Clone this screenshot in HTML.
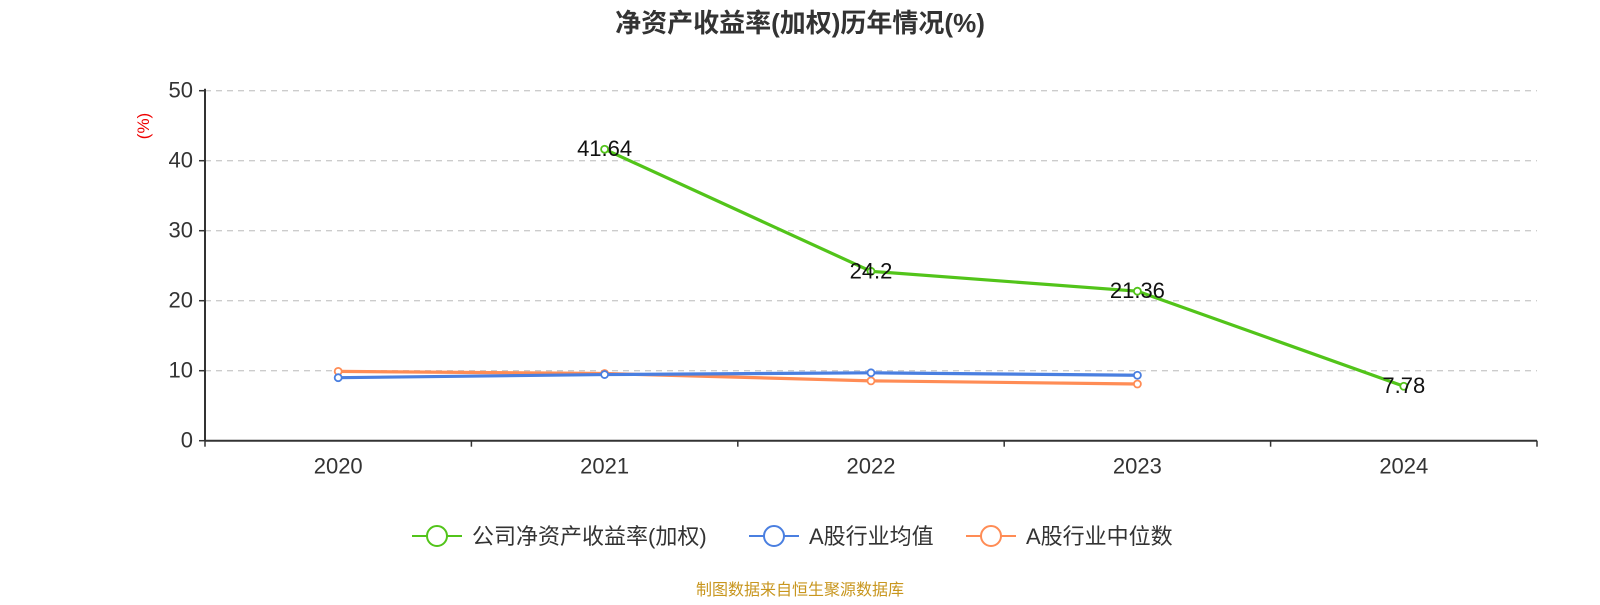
<!DOCTYPE html>
<html><head><meta charset="utf-8"><style>
body{margin:0;background:#fff;font-family:"Liberation Sans","Noto Sans CJK SC",sans-serif}
svg text{font-family:"Liberation Sans","Noto Sans CJK SC",sans-serif}
</style></head><body>
<svg id="chart" width="1600" height="600" xmlns="http://www.w3.org/2000/svg">
<text x="800" y="32" text-anchor="middle" font-size="26" font-weight="bold" fill="#333">净资产收益率(加权)历年情况(%)</text>
<text transform="translate(149,126) rotate(-90)" text-anchor="middle" font-size="17" fill="#e00">(%)</text>
<g id="grid"></g><g id="axes"></g><g id="series"></g>
<g id="legend"></g>
<text x="800" y="595" text-anchor="middle" font-size="16" fill="#c8961e">制图数据来自恒生聚源数据库</text>
</svg>
<script>
const categories=["2020","2021","2022","2023","2024"];
const yTicks=[0,10,20,30,40,50];
const companyRoe=[null,41.64,24.2,21.36,7.78];
const industryAvg=[9.0,9.45,9.7,9.35,null];
const industryMedian=[9.9,9.6,8.55,8.1,null];
const X0=205,X1=1537,Y0=440.7,Y1=90.7,YMAX=50;
const bw=(X1-X0)/categories.length;
const xs=i=>X0+bw*(i+0.5);
const ys=v=>Y0-(v/YMAX)*(Y0-Y1);
const NS="http://www.w3.org/2000/svg";
function mk(tag,attrs,parent,txt){const e=document.createElementNS(NS,tag);for(const k in attrs)e.setAttribute(k,attrs[k]);if(txt!=null)e.textContent=txt;parent.appendChild(e);return e;}
const grid=document.getElementById('grid'),axes=document.getElementById('axes'),ser=document.getElementById('series'),leg=document.getElementById('legend');
yTicks.forEach(t=>{
  if(t>0){const l=mk('line',{x1:X0,x2:X1,y1:ys(t),y2:ys(t),stroke:'#ccc','stroke-dasharray':'6,5','stroke-width':1.3},grid);
  
  }
  const tk=mk('line',{x1:X0-6,x2:X0,y1:ys(t),y2:ys(t),stroke:'#333','stroke-width':1.5},axes);
  
  
  const tx=mk('text',{x:X0-12,y:ys(t)+7,'text-anchor':'end','font-size':22,fill:'#333'},axes,String(t));
  
  
});
const ya=mk('line',{x1:X0,x2:X0,y1:Y1-2,y2:Y0,stroke:'#333','stroke-width':2},axes);


const xa=mk('line',{x1:X0,x2:X1,y1:Y0,y2:Y0,stroke:'#333','stroke-width':2},axes);


for(let i=0;i<=categories.length;i++){const t=mk('line',{x1:X0+bw*i,x2:X0+bw*i,y1:Y0,y2:Y0+6,stroke:'#333','stroke-width':1.5},axes);
  
  }
categories.forEach((c,i)=>{const t=mk('text',{x:xs(i),y:Y0+33,'text-anchor':'middle','font-size':22,fill:'#333'},axes,c);
  
  });
function drawSeries(vals,color,name,labels){
  const g=mk('g',{},ser);
  
  
  const pts=[];vals.forEach((v,i)=>{if(v!=null)pts.push([xs(i),ys(v),v]);});
  const p=mk('polyline',{points:pts.map(p=>p[0]+','+p[1]).join(' '),fill:'none',stroke:color,'stroke-width':3.2},g);
  
  
  pts.forEach(pt=>{const c=mk('circle',{cx:pt[0],cy:pt[1],r:3.5,fill:'#fff',stroke:color,'stroke-width':1.8},g);
    
    
    if(labels){const t=mk('text',{x:pt[0],y:pt[1]+7,'text-anchor':'middle','font-size':22,fill:'#111'},g,String(pt[2]));
      
      }
  });
}
drawSeries(industryMedian,'#ff8c55','industry-median',false);
drawSeries(industryAvg,'#4a7fe0','industry-average',false);
drawSeries(companyRoe,'#52c41a','company-roe',true);
const items=[['公司净资产收益率(加权)','#52c41a',412],['A股行业均值','#4a7fe0',749],['A股行业中位数','#ff8c55',966]];
items.forEach(([lab,col,x])=>{
  const g=mk('g',{},leg);
  
  
  mk('line',{x1:x,x2:x+50,y1:536,y2:536,stroke:col,'stroke-width':2},g);
  mk('circle',{cx:x+25,cy:536,r:10,fill:'#fff',stroke:col,'stroke-width':2},g);
  mk('text',{x:x+60,y:544,'font-size':22,fill:'#333'},g,lab);
});
</script>
</body></html>
